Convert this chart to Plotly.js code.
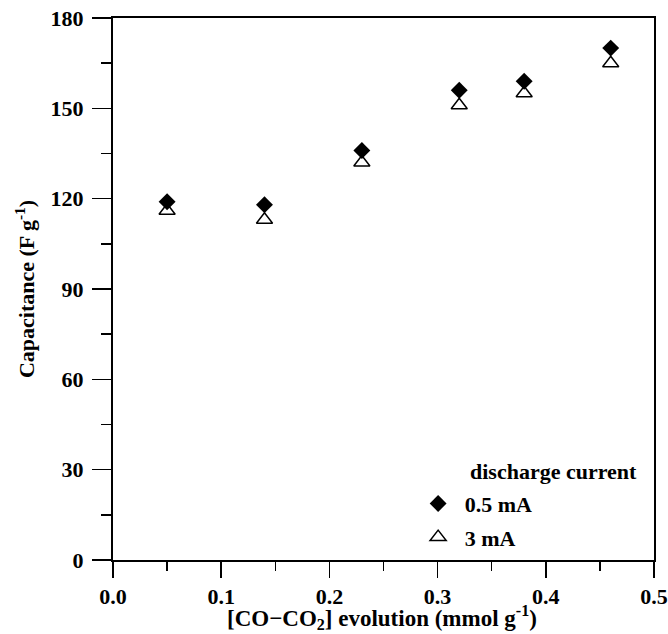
<!DOCTYPE html>
<html>
<head>
<meta charset="utf-8">
<script src="https://cdn.plot.ly/plotly-3.0.1.min.js"></script>
<style>html,body{margin:0;padding:0;background:#fff}#chart{width:668px;height:634px}</style>
</head>
<body>
<div id="chart"></div>
<script>
const coEvolution = [0.05, 0.14, 0.23, 0.32, 0.38, 0.46];
const cap05mA = [119, 118, 136, 156, 159, 170];
const cap3mA = [116, 113, 132, 151, 155, 165];
const seriesNames = ['0.5 mA', '3 mA'];
const legendTitle = 'discharge current';
const xTitle = '[CO\u2212CO<sub>2</sub>] evolution (mmol g<sup>-1</sup>)';
const yTitle = 'Capacitance (F g<sup>-1</sup>)';
const xTickVals = [0, 0.1, 0.2, 0.3, 0.4, 0.5];
const xTickText = ['0.0', '0.1', '0.2', '0.3', '0.4', '0.5'];
const yTickVals = [0, 30, 60, 90, 120, 150, 180];
const yTickText = ['0', '30', '60', '90', '120', '150', '180'];

const serif = 'Liberation Serif, Times New Roman, serif';
const bold = s => '<b>' + s + '</b>';

const traces = [
  {
    x: coEvolution, y: cap05mA, name: bold(seriesNames[0]),
    type: 'scatter', mode: 'markers', legendgroup: 'a',
    marker: {symbol: 'diamond', size: 13, color: '#000', line: {width: 0}}
  },
  {
    x: coEvolution, y: cap3mA, name: bold(seriesNames[1]),
    type: 'scatter', mode: 'markers', legendgroup: 'b',
    marker: {symbol: 'triangle-up-open', size: 14, color: '#000', line: {width: 1.5, color: '#000'}}
  }
];

const layout = {
  width: 668, height: 634,
  margin: {l: 113, r: 14, t: 18, b: 74},
  paper_bgcolor: '#fff', plot_bgcolor: '#fff',
  showlegend: true,
  legend: {
    x: 0.552, y: 0.0725, xanchor: 'left', yanchor: 'middle',
    bgcolor: 'rgba(0,0,0,0)', borderwidth: 0,
    font: {family: serif, size: 22, color: '#000'},
    traceorder: 'grouped', tracegroupgap: 2, itemwidth: 43
  },
  xaxis: {
    showgrid: false, zeroline: false, showline: true, linecolor: '#000', linewidth: 2,
    mirror: true, ticks: 'outside', ticklen: 16, tickwidth: 1.5, tickcolor: '#000',
    range: [0, 0.5], tickmode: 'array', tickvals: xTickVals, ticktext: xTickText.map(bold),
    tickfont: {family: serif, size: 22, color: '#000'},
    minor: {dtick: 0.05, ticks: 'outside', ticklen: 9, tickwidth: 1.5, tickcolor: '#000'}
  },
  yaxis: {
    showgrid: false, zeroline: false, showline: true, linecolor: '#000', linewidth: 2,
    mirror: true, ticks: 'outside', ticklen: 19, tickwidth: 1.5, tickcolor: '#000',
    ticklabelstandoff: 4,
    range: [0, 180], tickmode: 'array', tickvals: yTickVals, ticktext: yTickText.map(bold),
    tickfont: {family: serif, size: 22, color: '#000'},
    minor: {dtick: 15, ticks: 'outside', ticklen: 10, tickwidth: 1.5, tickcolor: '#000'},
    title: {text: bold(yTitle), standoff: 10,
      font: {family: serif, size: 22, color: '#000'}}
  },
  annotations: [
    {
      text: bold(legendTitle), xref: 'paper', yref: 'paper',
      x: 0.657, y: 0.163, xanchor: 'left', yanchor: 'middle', showarrow: false,
      font: {family: serif, size: 22, color: '#000'}
    },
    {
      text: bold(xTitle), xref: 'paper', yref: 'paper',
      x: 0.497, y: -0.106, xanchor: 'center', yanchor: 'middle', showarrow: false,
      font: {family: serif, size: 23, color: '#000'}
    }
  ]
};

Plotly.newPlot('chart', traces, layout, {displayModeBar: false, staticPlot: true});
</script>
</body>
</html>
